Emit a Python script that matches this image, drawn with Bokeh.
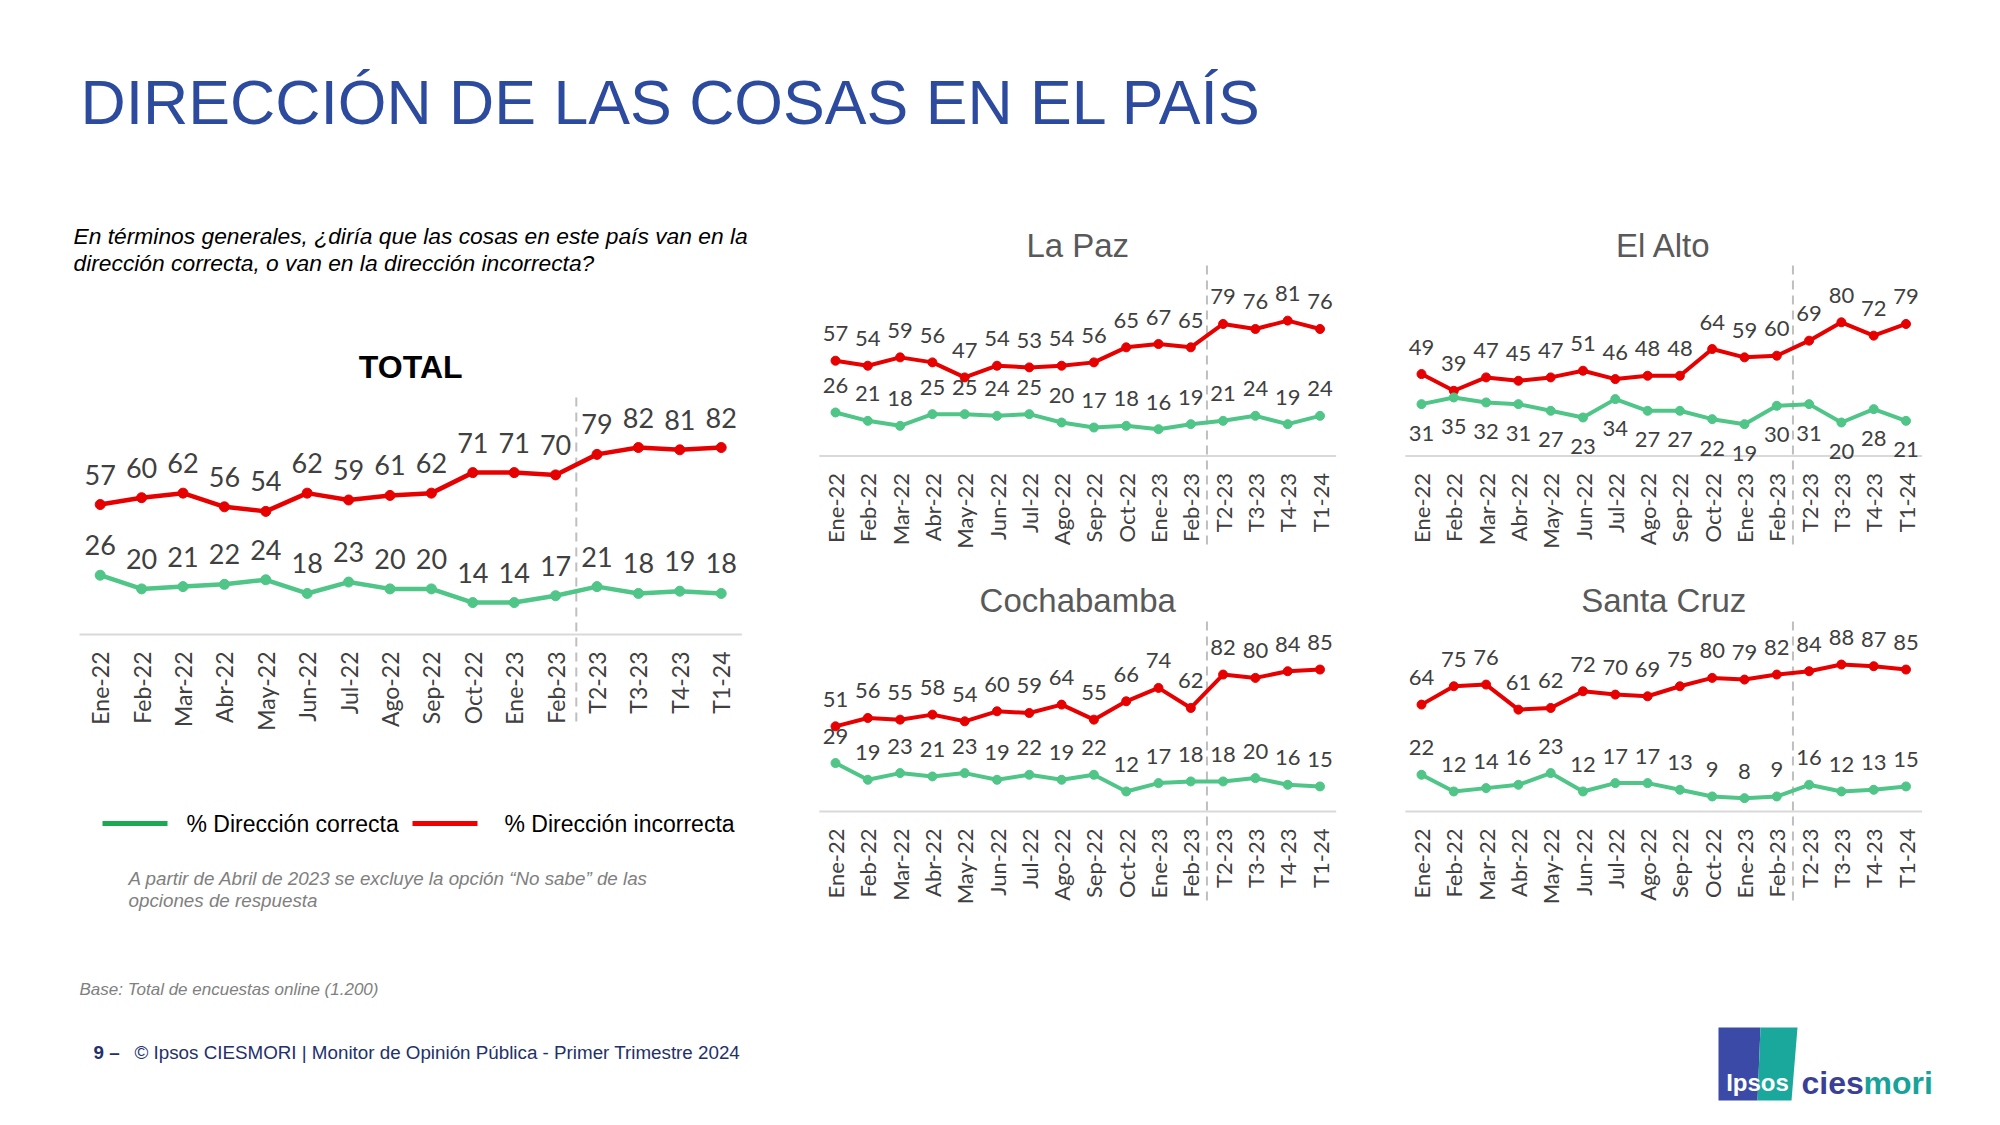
import math
from bokeh.plotting import figure
from bokeh.models import Range1d
from bokeh.embed import file_html
from bokeh.resources import INLINE
from bokeh.core.properties import value

# ---------------- data ----------------
categories = ["Ene-22", "Feb-22", "Mar-22", "Abr-22", "May-22", "Jun-22", "Jul-22", "Ago-22",
              "Sep-22", "Oct-22", "Ene-23", "Feb-23", "T2-23", "T3-23", "T4-23", "T1-24"]
split_category = "T2-23"

total_incorrecta = [57, 60, 62, 56, 54, 62, 59, 61, 62, 71, 71, 70, 79, 82, 81, 82]
total_correcta = [26, 20, 21, 22, 24, 18, 23, 20, 20, 14, 14, 17, 21, 18, 19, 18]

lapaz_incorrecta = [57, 54, 59, 56, 47, 54, 53, 54, 56, 65, 67, 65, 79, 76, 81, 76]
lapaz_correcta = [26, 21, 18, 25, 25, 24, 25, 20, 17, 18, 16, 19, 21, 24, 19, 24]

elalto_incorrecta = [49, 39, 47, 45, 47, 51, 46, 48, 48, 64, 59, 60, 69, 80, 72, 79]
elalto_correcta = [31, 35, 32, 31, 27, 23, 34, 27, 27, 22, 19, 30, 31, 20, 28, 21]

cocha_incorrecta = [51, 56, 55, 58, 54, 60, 59, 64, 55, 66, 74, 62, 82, 80, 84, 85]
cocha_correcta = [29, 19, 23, 21, 23, 19, 22, 19, 22, 12, 17, 18, 18, 20, 16, 15]

scz_incorrecta = [64, 75, 76, 61, 62, 72, 70, 69, 75, 80, 79, 82, 84, 88, 87, 85]
scz_correcta = [22, 12, 14, 16, 23, 12, 17, 17, 13, 9, 8, 9, 16, 12, 13, 15]

series_names = ["% Dirección correcta", "% Dirección incorrecta"]

# ---------------- style ----------------
W, H = 1984, 1104
SH = 8  # shift of the page content
RED = "#E60000"
GREEN = "#4FC587"
LEG_GREEN = "#1BAA52"
LEG_RED = "#F00000"
NUM_COLOR = "#404040"
ARIAL = value("Liberation Sans")
NUMF = value("Lato")

p = figure(width=W, height=H, x_range=Range1d(-SH, W - SH), y_range=Range1d(H - SH, -SH),
           output_backend="svg", toolbar_location=None, min_border=0,
           x_axis_location=None, y_axis_location=None,
           background_fill_color="white", border_fill_color="white",
           outline_line_color=None)
p.grid.visible = False


def page_text(x, y, t, size, color="black", font=ARIAL, style="normal", align="left", baseline="middle"):
    p.text(x=[x], y=[y], text=[t], text_font=font, text_font_size=size, text_color=color,
           text_font_style=style, text_align=align, text_baseline=baseline)


def panel(name, red, green, X0, dx, Ybase, k, top_px, bottom_px, num_size, cat_size,
          marker, lw, off, green_below=False, title=None, title_y=None, title_font=None,
          title_size="33px", title_color="#595959", title_style="normal"):
    xr, yr = name + "_x", name + "_y"
    sx0, sy0 = X0 + SH, Ybase + SH
    p.extra_x_ranges[xr] = Range1d(-sx0 / dx, (W - sx0) / dx)
    p.extra_y_ranges[yr] = Range1d((sy0 - H) / k, sy0 / k)
    kw = dict(x_range_name=xr, y_range_name=yr)
    n = len(categories)
    idx = list(range(n))
    # baseline
    p.segment(x0=[-0.5], x1=[n - 0.5], y0=[0], y1=[0], line_color="#D9D9D9", line_width=2, **kw)
    # separator
    s = categories.index(split_category) - 0.5
    p.segment(x0=[s], x1=[s], y0=[(Ybase - top_px) / k], y1=[(Ybase - bottom_px) / k],
              line_color="#BFBFBF", line_width=2, line_dash="9 6", **kw)
    # lines
    for vals, col in ((red, RED), (green, GREEN)):
        p.line(idx, vals, line_color=col, line_width=lw, **kw)
        p.scatter(idx, vals, size=marker, fill_color=col, line_color=col, **kw)
    # data labels
    p.text(idx, red, text=[str(v) for v in red], text_font=NUMF, text_font_size=num_size,
           text_color=NUM_COLOR, text_align="center", text_baseline="middle", y_offset=-off, **kw)
    p.text(idx, green, text=[str(v) for v in green], text_font=NUMF, text_font_size=num_size,
           text_color=NUM_COLOR, text_align="center", text_baseline="middle",
           y_offset=(off + 2) if green_below else -off, **kw)
    # category labels
    p.text(idx, [0] * n, text=categories, text_font=NUMF, text_font_size=cat_size,
           text_color=NUM_COLOR, angle=math.pi / 2, text_align="right", text_baseline="middle",
           y_offset=17, **kw)
    if title:
        cx = X0 + (n - 1) / 2 * dx
        page_text(cx, title_y, title, title_size, color=title_color, font=title_font or ARIAL,
                  style=title_style, align="center")


# header
page_text(72, 93, "DIRECCIÓN DE LAS COSAS EN EL PAÍS", "62.6px", color="#2D4B9E")
page_text(65, 227, "En términos generales, ¿diría que las cosas en este país van en la", "22.8px",
          style="italic")
page_text(65, 254, "dirección correcta, o van en la dirección incorrecta?", "22.8px", style="italic")

# total
panel("tot", total_incorrecta, total_correcta, X0=91.7, dx=41.4, Ybase=626, k=2.28,
      top_px=389, bottom_px=717, num_size="27px", cat_size="23px", marker=10, lw=4.5, off=30,
      title="TOTAL", title_y=358, title_size="32px", title_color="black", title_style="bold")

# regions
panel("lp", lapaz_incorrecta, lapaz_correcta, X0=827, dx=32.3, Ybase=447.4, k=1.67,
      top_px=257, bottom_px=538, num_size="22px", cat_size="22px", marker=9, lw=4, off=27,
      title="La Paz", title_y=237)
panel("ea", elalto_incorrecta, elalto_correcta, X0=1413, dx=32.3, Ybase=447.4, k=1.67,
      top_px=257, bottom_px=538, num_size="22px", cat_size="22px", marker=9, lw=4, off=27,
      green_below=True, title="El Alto", title_y=237)
panel("cb", cocha_incorrecta, cocha_correcta, X0=827, dx=32.3, Ybase=803, k=1.67,
      top_px=613, bottom_px=895, num_size="22px", cat_size="22px", marker=9, lw=4, off=27,
      title="Cochabamba", title_y=592)
panel("sc", scz_incorrecta, scz_correcta, X0=1413, dx=32.3, Ybase=803, k=1.67,
      top_px=613, bottom_px=895, num_size="22px", cat_size="22px", marker=9, lw=4, off=27,
      title="Santa Cruz", title_y=592)

# legend
p.segment(x0=[94], x1=[159], y0=[815], y1=[815], line_color=LEG_GREEN, line_width=5)
page_text(178, 815, series_names[0], "23px")
p.segment(x0=[404], x1=[469], y0=[815], y1=[815], line_color=LEG_RED, line_width=5)
page_text(496, 815, series_names[1], "23px")

# notes
page_text(120, 870, "A partir de Abril de 2023 se excluye la opción “No sabe” de las", "18.8px",
          color="#808080", style="italic")
page_text(120, 892, "opciones de respuesta", "18.8px", color="#808080", style="italic")
page_text(71, 981, "Base: Total de encuestas online (1.200)", "17px", color="#808080", style="italic")

# footer
page_text(85, 1044, "9 –", "18.8px", color="#22306C", style="bold")
page_text(126, 1044, "© Ipsos CIESMORI | Monitor de Opinión Pública - Primer Trimestre 2024", "18.8px",
          color="#22306C")

# logo
p.patches(xs=[[1710, 1752, 1749, 1710], [1752, 1789, 1783, 1749]],
          ys=[[1019, 1019, 1092, 1092], [1019, 1019, 1092, 1092]],
          fill_color=["#3B4AA6", "#1BA89C"], line_color=None)
page_text(1749, 1074, "Ipsos", "24px", color="white", style="bold", align="center")
page_text(1793, 1074, "cies", "32px", color="#3A3F98", style="bold")
page_text(1855, 1074, "mori", "32px", color="#18A39A", style="bold")

open("out.html", "w").write(file_html(p, INLINE))
